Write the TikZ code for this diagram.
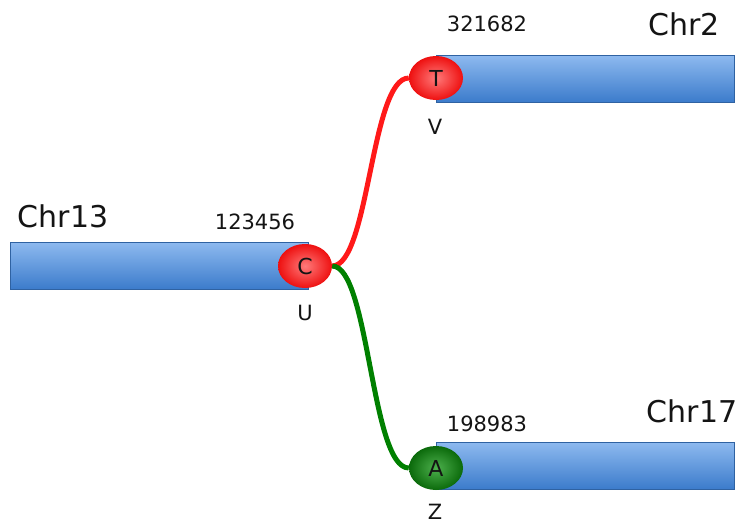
\documentclass[tikz,border=0pt]{standalone}
\usepackage{fontspec}
\setmainfont{DejaVu Sans}
\usepackage{tikz}
\usetikzlibrary{shapes.geometric}

\definecolor{barTop}{HTML}{8DB9EF}
\definecolor{barBot}{HTML}{3B7BCB}
\definecolor{redIn}{HTML}{FF7A7A}
\definecolor{redOut}{HTML}{EE1010}
\definecolor{greenIn}{HTML}{4DB04D}
\definecolor{greenOut}{HTML}{0B6A0B}
\definecolor{txt}{HTML}{141414}

\tikzset{
  chrbar/.style={rectangle, anchor=west, minimum width=298pt, minimum height=47pt,
    top color=barTop, bottom color=barBot, draw=barBot!80!black, line width=0.4pt},
  redallele/.style={ellipse, minimum width=54pt, minimum height=44pt, inner sep=0pt,
    inner color=redIn, outer color=redOut, text=txt, font=\fontsize{22}{22}\selectfont},
  greenallele/.style={redallele, inner color=greenIn, outer color=greenOut},
  chrname/.style={text=txt, font=\fontsize{30}{30}\selectfont},
  posnum/.style={text=txt, font=\fontsize{21}{21}\selectfont},
  junction/.style={line width=5pt},
}

\begin{document}
\begin{tikzpicture}[x=1pt, y=-1pt]
\useasboundingbox (0,0) rectangle (740,525);
% chromosomes
\node[chrbar] (chr13) at (10,266) {};
\node[chrbar] (chr2) at (436,79) {};
\node[chrbar] (chr17) at (436,466) {};
% alleles
\node[redallele] (C) at (305,266) {C};
\node[redallele] (T) at (436,78) {T};
\node[greenallele] (A) at (436,468) {A};
% joins
\draw[junction, red!90!white] (C.east) .. controls +(37,0) and +(-38,0) .. (T.west);
\draw[junction, green!50!black] (C.east) .. controls +(37,0) and +(-38,0) .. (A.west);
% labels
\node[chrname] (n13) at (63,216) {Chr13};
\node[chrname] (n2) at (684,24) {Chr2};
\node[chrname] (n17) at (692,411) {Chr17};
\node[posnum] (p13) at (255,222) {123456};
\node[posnum] (p2) at (487,24) {321682};
\node[posnum] (p17) at (487,424) {198983};
\node[posnum] (U) at (305,313) {U};
\node[posnum] (V) at (435,127) {V};
\node[posnum] (Z) at (435,512) {Z};
\end{tikzpicture}
\end{document}
